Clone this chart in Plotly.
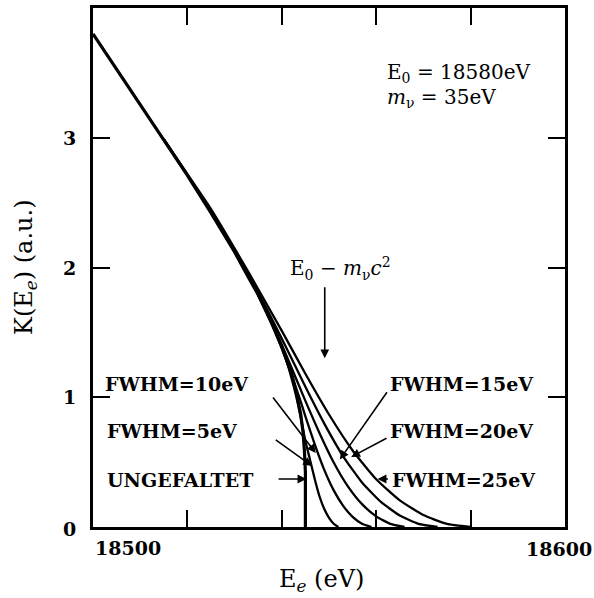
import plotly.graph_objects as go

# ---------------- data ----------------
# unfolded (UNGEFALTET) Kurie function
E_unf = [18500, 18505, 18510, 18515, 18520, 18525, 18530, 18533, 18535, 18538,
         18540, 18542, 18543, 18544, 18544.5, 18544.8, 18545.0, 18545.0]
K_unf = [3.80, 3.53, 3.26, 2.99, 2.71, 2.42, 2.12, 1.92, 1.79, 1.56,
         1.39, 1.19, 1.05, 0.87, 0.73, 0.58, 0.42, 0.0]

E_05 = [18530, 18535, 18539, 18541, 18542, 18543, 18544, 18545, 18546, 18547,
        18548, 18549, 18550, 18551, 18552]
K_05 = [2.12, 1.79, 1.48, 1.28, 1.155, 1.015, 0.846, 0.663, 0.515, 0.366,
        0.235, 0.138, 0.070, 0.025, 0.0]

E_10 = [18525, 18530, 18533, 18537, 18540, 18542, 18544, 18545, 18547, 18549,
        18551, 18553, 18555, 18557, 18559]
K_10 = [2.42, 2.12, 1.93, 1.636, 1.375, 1.18, 0.968, 0.853, 0.635, 0.44,
        0.282, 0.163, 0.078, 0.025, 0.0]

E_15 = [18520, 18525, 18531, 18535, 18539, 18542, 18545, 18548, 18551, 18554,
        18557, 18560, 18563, 18566]
K_15 = [2.71, 2.43, 2.066, 1.79, 1.487, 1.233, 0.972, 0.723, 0.497, 0.313,
        0.176, 0.082, 0.024, 0.0]

E_20 = [18515, 18521, 18529, 18535, 18541, 18545, 18549, 18553, 18557, 18561,
        18565, 18569, 18573]
K_20 = [2.99, 2.66, 2.20, 1.808, 1.378, 1.081, 0.797, 0.545, 0.343, 0.193,
        0.088, 0.024, 0.0]

E_25 = [18515, 18520, 18525, 18533, 18540, 18545, 18550, 18555, 18560, 18565,
        18570, 18575, 18580]
K_25 = [2.99, 2.72, 2.45, 1.96, 1.512, 1.181, 0.867, 0.590, 0.368, 0.205,
        0.092, 0.024, 0.0]

x_ticks = [18520, 18540, 18560, 18580]
x_ticklabels = ["18500", "18600"]
y_ticks = [1, 2, 3]
y_ticklabels = ["0", "1", "2", "3"]

FONT = "DejaVu Serif"

fig = go.Figure()

fig.add_trace(go.Scatter(x=E_unf, y=K_unf, mode="lines",
                         line=dict(color="black", width=3.2), showlegend=False))
for E, K in [(E_05, K_05), (E_10, K_10), (E_15, K_15), (E_20, K_20), (E_25, K_25)]:
    fig.add_trace(go.Scatter(x=E, y=K, mode="lines",
                             line=dict(color="black", width=2.3, shape="spline", smoothing=0.5),
                             showlegend=False))

axis_common = dict(showgrid=False, zeroline=False, showline=True, linecolor="black",
                   linewidth=2.8, mirror="ticks", ticks="inside", ticklen=17,
                   tickwidth=2.2, tickcolor="black", showticklabels=False)
fig.update_xaxes(range=[18500, 18600], tickvals=x_ticks, **axis_common)
fig.update_yaxes(range=[0, 4], tickvals=y_ticks, **axis_common)


def tfont(size, bold=True):
    d = dict(family=FONT, size=size, color="black")
    if bold:
        d["weight"] = "bold"
    return d


ann = []
# tick labels
ann.append(dict(x=18500, y=0, xref="x", yref="paper", text=x_ticklabels[0],
                xanchor="left", yanchor="top", xshift=0, yshift=-8, showarrow=False,
                font=tfont(19)))
ann.append(dict(x=18600, y=0, xref="x", yref="paper", text=x_ticklabels[1],
                xanchor="center", yanchor="top", xshift=-6, yshift=-9, showarrow=False,
                font=tfont(19)))
for i, lab in enumerate(y_ticklabels):
    ann.append(dict(x=0, y=i, xref="paper", yref="y", text=lab, xanchor="right",
                    yanchor="middle", xshift=-15, yshift=-2 if i == 0 else 0,
                    showarrow=False, font=tfont(19)))

# axis titles
ann.append(dict(x=0.485, y=0, xref="paper", yref="paper", yanchor="top", yshift=-36,
                text="E<sub><i>e</i></sub> (eV)", showarrow=False, font=tfont(24, False)))
ann.append(dict(x=0, y=0.5, xref="paper", yref="paper", xanchor="right", xshift=-50,
                text="K(E<sub><i>e</i></sub>) (a.u.)", textangle=-90, showarrow=False,
                font=tfont(24, False)))

# parameter text
ann.append(dict(x=18561.9, y=3.50, xref="x", yref="y", xanchor="left", yanchor="middle",
                text="E<sub>0</sub> = 18580eV", showarrow=False, font=tfont(20, False)))
ann.append(dict(x=18561.9, y=3.31, xref="x", yref="y", xanchor="left", yanchor="middle",
                text="<i>m</i><sub>ν</sub> = 35eV", showarrow=False, font=tfont(20, False)))
ann.append(dict(x=18541.3, y=1.99, xref="x", yref="y", xanchor="left", yanchor="middle",
                text="E<sub>0</sub> − <i>m</i><sub>ν</sub><i>c</i><sup>2</sup>", showarrow=False,
                font=tfont(20, False)))

# curve labels
for txt, x, y in [("FWHM=10eV", 18502.1, 1.10), ("FWHM=5eV", 18502.5, 0.74),
                  ("UNGEFALTET", 18502.5, 0.36), ("FWHM=15eV", 18562.6, 1.10),
                  ("FWHM=20eV", 18562.6, 0.74), ("FWHM=25eV", 18563.0, 0.36)]:
    ann.append(dict(x=x, y=y, xref="x", yref="y", xanchor="left", yanchor="middle",
                    text=txt, showarrow=False, font=tfont(19)))

# arrows (tail -> tip)
arrows = [
    ((18549.1, 1.86), (18549.1, 1.30)),   # E0 - m c^2
    ((18537.9, 1.01), (18547.2, 0.57)),   # 10 eV
    ((18538.4, 0.68), (18546.4, 0.47)),   # 5 eV
    ((18539.0, 0.37), (18545.2, 0.37)),   # ungefaltet
    ((18562.5, 1.05), (18552.3, 0.52)),   # 15 eV
    ((18562.5, 0.69), (18554.7, 0.54)),   # 20 eV
    ((18562.8, 0.37), (18560.3, 0.37)),   # 25 eV
]
for (ax, ay), (x, y) in arrows:
    ann.append(dict(x=x, y=y, ax=ax, ay=ay, xref="x", yref="y", axref="x", ayref="y",
                    text="", showarrow=True, arrowhead=2, arrowsize=1.1,
                    arrowwidth=1.6, arrowcolor="black"))

fig.update_layout(width=594, height=598, margin=dict(l=93, r=29, t=5, b=71),
                  paper_bgcolor="white", plot_bgcolor="white", annotations=ann)

fig.write_html("out.html")
